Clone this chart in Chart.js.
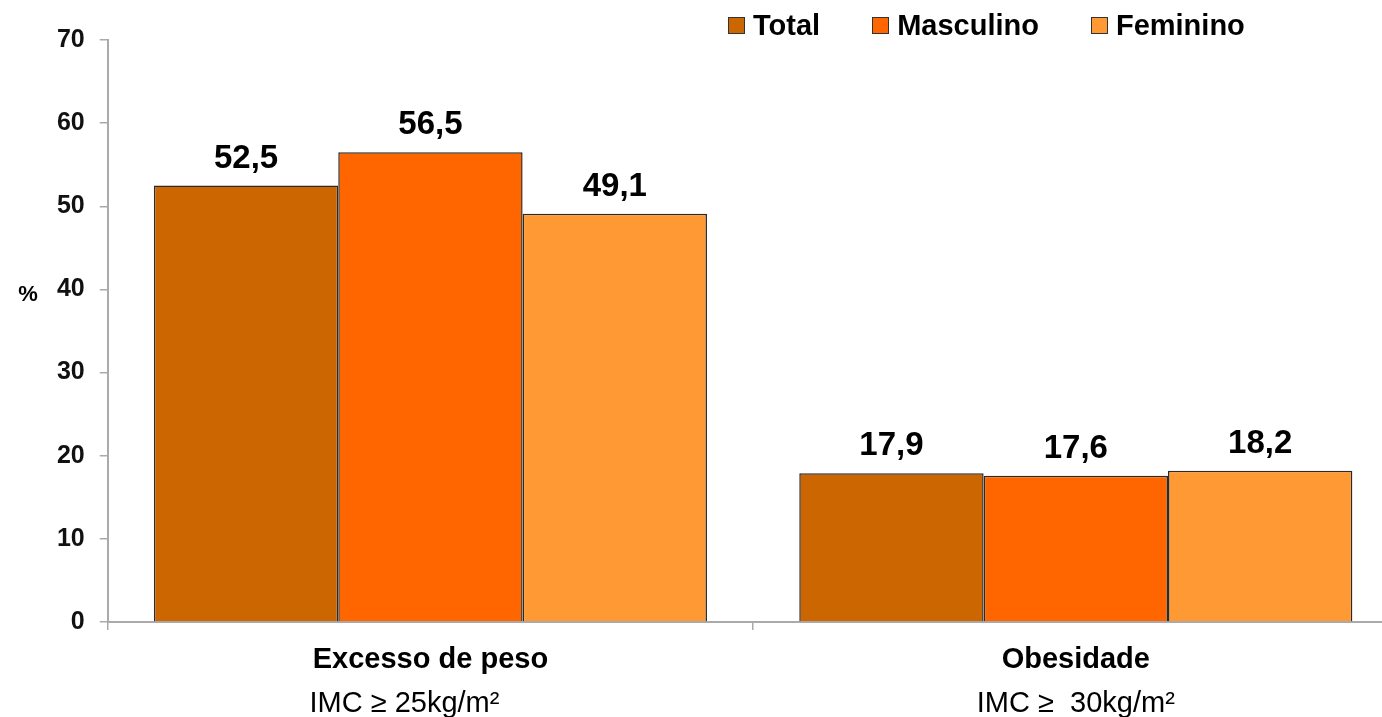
<!DOCTYPE html>
<html>
<head>
<meta charset="utf-8">
<script src="https://cdn.jsdelivr.net/npm/chart.js@4"></script>
<style>
    html, body { margin: 0; padding: 0; background: #fff; overflow: hidden; }
    #wrap { position: relative; width: 1382px; height: 717px; overflow: hidden; }
    #chart { position: absolute; left: 0; top: 0; }
    #legend { position: absolute; left: 728px; top: 9px; display: flex; gap: 52px;
        font: bold 29px "Liberation Sans", Arial, sans-serif; color: #000; }
    #legend .item { display: flex; align-items: center; }
    #legend .box { width: 15px; height: 15px; border: 1px solid #333; margin-right: 8px; }
</style>
</head>
<body>
<div id="wrap">
    <canvas id="chart" width="1400" height="717"></canvas>
    <div id="legend"></div>
</div>
<script>
const categories = ['Excesso de peso', 'Obesidade'];
const subtitles = ['IMC ≥ 25kg/m²', 'IMC ≥  30kg/m²'];
const series_names = ['Total', 'Masculino', 'Feminino'];
const total = [52.5, 17.9];
const masculino = [56.5, 17.6];
const feminino = [49.1, 18.2];
const y_ticks = [0, 10, 20, 30, 40, 50, 60, 70];

const colors = ['#CC6600', '#FF6600', '#FF9933'];
const font_family = '"Liberation Sans", Arial, sans-serif';

const fmt = (v) => v.toFixed(1).replace('.', ',');

// values above the bars, subtitles under categories and the "%" label
const extras = {
    id: 'extras',
    afterDatasetsDraw(chart) {
        const ctx = chart.ctx;
        ctx.save();
        ctx.fillStyle = '#000';
        ctx.font = 'bold 33px ' + font_family;
        ctx.textAlign = 'center';
        ctx.textBaseline = 'alphabetic';
        chart.data.datasets.forEach((ds, i) => {
            chart.getDatasetMeta(i).data.forEach((bar, j) => {
                ctx.fillText(fmt(ds.data[j]), bar.x, bar.y - 18);
            });
        });

        const xs = chart.scales.x;
        const offsets = [-26, 0];
        ctx.font = '29px ' + font_family;
        subtitles.forEach((s, i) => {
            ctx.fillText(s, xs.getPixelForTick(i) + offsets[i], 712);
        });

        ctx.font = 'bold 22px ' + font_family;
        ctx.textBaseline = 'middle';
        ctx.fillText('%', 28, 295);
        ctx.restore();
    }
};

const datasets = [total, masculino, feminino].map((d, i) => ({
    label: series_names[i],
    data: d,
    backgroundColor: colors[i],
    borderColor: '#2a2a2a',
    borderWidth: 1.5,
    borderSkipped: 'bottom',
    categoryPercentage: 0.857,
    barPercentage: 1
}));

new Chart(document.getElementById('chart'), {
    type: 'bar',
    data: { labels: categories, datasets: datasets },
    plugins: [extras],
    options: {
        responsive: false,
        animation: false,
        devicePixelRatio: 1,
        layout: { padding: { top: 40, right: 1.5, left: 0, bottom: 0 } },
        plugins: { legend: { display: false }, tooltip: { enabled: false } },
        scales: {
            x: {
                afterFit: (s) => { s.height = 95; },
                grid: { offset: true, drawOnChartArea: false, drawTicks: true, tickLength: 8, color: '#aaa', lineWidth: 1.5 },
                border: { display: true, color: '#aaa', width: 2 },
                ticks: { color: '#000', padding: 13, font: { family: font_family, size: 29, weight: 'bold' } }
            },
            y: {
                min: 0,
                max: 70,
                afterFit: (s) => { s.width = 107.75; },
                afterBuildTicks: (s) => { s.ticks = y_ticks.map(v => ({ value: v })); },
                grid: { drawOnChartArea: false, drawTicks: true, tickLength: 8, color: '#aaa', lineWidth: 1.5 },
                border: { display: true, color: '#aaa', width: 2 },
                ticks: { color: '#111', padding: 15, font: { family: font_family, size: 25, weight: 'bold' } }
            }
        }
    }
});

const legend = document.getElementById('legend');
series_names.forEach((name, i) => {
    const item = document.createElement('div');
    item.className = 'item';
    item.innerHTML = '<span class="box" style="background:' + colors[i] + '"></span>' + name;
    legend.appendChild(item);
});
</script>
</body>
</html>
